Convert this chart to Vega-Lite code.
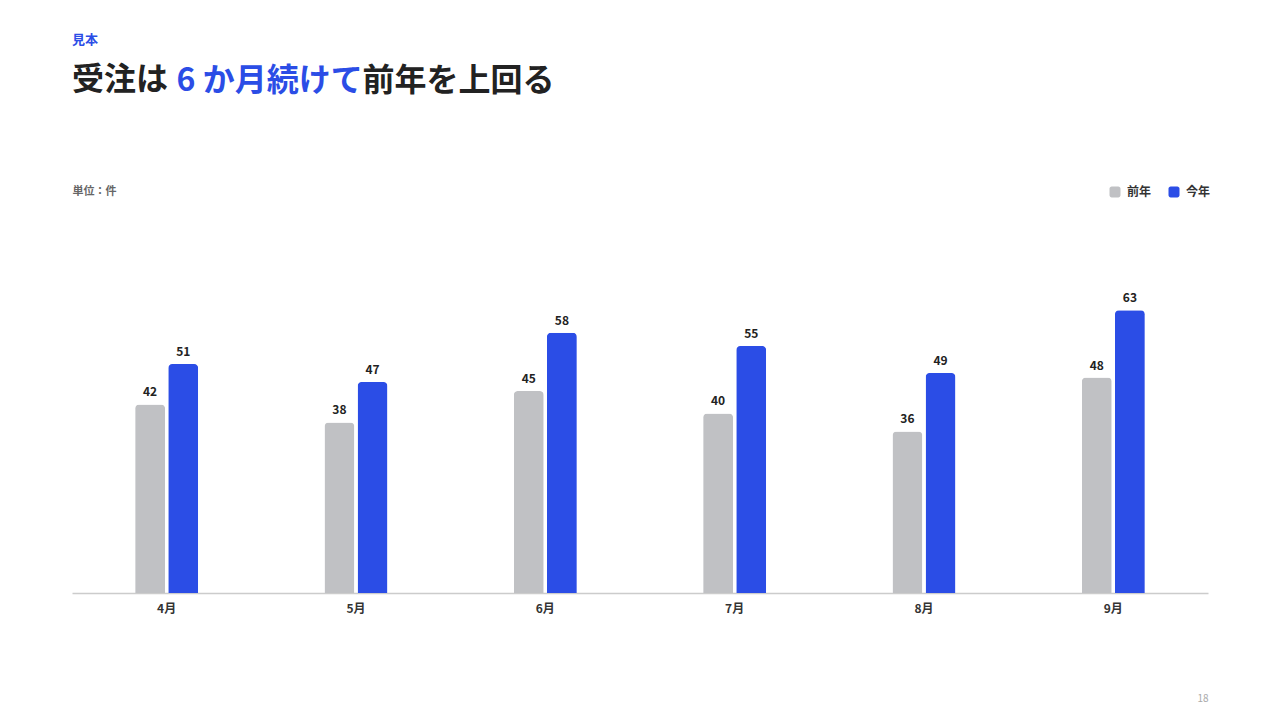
{
  "$schema": "https://vega.github.io/schema/vega-lite/v6.json",
  "autosize": {"type": "none"},
  "width": 1136,
  "height": 413,
  "padding": {"left": 72, "top": 180, "right": 72, "bottom": 127},
  "background": "#ffffff",
  "config": {
    "view": {"stroke": null},
    "font": "Noto Sans CJK JP"
  },
  "title": {
    "text": "見本",
    "subtitle": "受注は",
    "anchor": "start",
    "frame": "group",
    "fontSize": 13,
    "fontWeight": "bold",
    "color": "#2b4de6",
    "subtitleFontSize": 32,
    "subtitleFontWeight": "bold",
    "subtitleColor": "#222222",
    "subtitlePadding": 18,
    "offset": -32
  },
  "data": {
    "values": [
      {"month": "4月", "series": "前年", "value": 42},
      {"month": "4月", "series": "今年", "value": 51},
      {"month": "5月", "series": "前年", "value": 38},
      {"month": "5月", "series": "今年", "value": 47},
      {"month": "6月", "series": "前年", "value": 45},
      {"month": "6月", "series": "今年", "value": 58},
      {"month": "7月", "series": "前年", "value": 40},
      {"month": "7月", "series": "今年", "value": 55},
      {"month": "8月", "series": "前年", "value": 36},
      {"month": "8月", "series": "今年", "value": 49},
      {"month": "9月", "series": "前年", "value": 48},
      {"month": "9月", "series": "今年", "value": 63}
    ]
  },
  "encoding": {
    "x": {
      "field": "month",
      "type": "nominal",
      "sort": ["4月", "5月", "6月", "7月", "8月", "9月"],
      "scale": {"paddingInner": 0.667, "paddingOuter": 0.3335}
    },
    "xOffset": {
      "field": "series",
      "type": "nominal",
      "sort": ["前年", "今年"],
      "scale": {"paddingInner": 0.095, "paddingOuter": 0}
    },
    "y": {
      "field": "value",
      "type": "quantitative",
      "scale": {"domain": [0, 92], "nice": false, "zero": true}
    }
  },
  "layer": [
    {
      "mark": {"type": "bar", "cornerRadiusTopLeft": 4, "cornerRadiusTopRight": 4},
      "encoding": {
        "x": {
          "field": "month",
          "type": "nominal",
          "sort": ["4月", "5月", "6月", "7月", "8月", "9月"],
          "axis": {
            "orient": "bottom",
            "title": "18",
            "titleAnchor": "end",
            "titleAlign": "right",
            "titleBaseline": "middle",
            "titleX": 1136,
            "titleY": 105,
            "titleFontSize": 10,
            "titleFontWeight": "normal",
            "titleColor": "#aaaaaa",
            "labelAngle": 0,
            "labelFontSize": 12,
            "labelFontWeight": "bold",
            "labelColor": "#333333",
            "labelPadding": 10,
            "ticks": false,
            "domainColor": "#cccccc",
            "domainWidth": 1.5,
            "grid": false
          }
        },
        "y": {
          "field": "value",
          "type": "quantitative",
          "axis": {
            "orient": "left",
            "title": "単位：件",
            "titleAngle": 0,
            "titleAlign": "left",
            "titleBaseline": "middle",
            "titleX": 0,
            "titleY": 11,
            "titleFontSize": 11,
            "titleFontWeight": "bold",
            "titleColor": "#666666",
            "labels": false,
            "ticks": false,
            "domain": false,
            "grid": false
          }
        },
        "color": {
          "field": "series",
          "type": "nominal",
          "sort": ["前年", "今年"],
          "scale": {"domain": ["前年", "今年"], "range": ["#c0c1c4", "#2b4de6"]},
          "legend": {
            "title": null,
            "orient": "none",
            "direction": "horizontal",
            "legendX": 1037,
            "legendY": 6,
            "symbolType": "M-0.6,-1H0.6A0.4,0.4 0 0 1 1,-0.6V0.6A0.4,0.4 0 0 1 0.6,1H-0.6A0.4,0.4 0 0 1 -1,0.6V-0.6A0.4,0.4 0 0 1 -0.6,-1Z",
            "symbolSize": 121,
            "symbolStrokeWidth": 0,
            "labelFontSize": 12,
            "labelFontWeight": "bold",
            "labelColor": "#333333",
            "labelOffset": 6,
            "columnPadding": 16
          }
        }
      }
    },
    {
      "mark": {"type": "text", "baseline": "bottom", "dy": -5, "fontSize": 12, "fontWeight": "bold", "color": "#222222"},
      "encoding": {
        "x": {
          "field": "month",
          "type": "nominal",
          "sort": ["4月", "5月", "6月", "7月", "8月", "9月"],
          "axis": {
            "orient": "top",
            "title": "6 か月続けて",
            "titleAnchor": "start",
            "titleAlign": "left",
            "titleBaseline": "middle",
            "titleX": 104,
            "titleY": -100,
            "titleFontSize": 32,
            "titleFontWeight": "bold",
            "titleColor": "#2b4de6",
            "labels": false,
            "ticks": false,
            "domain": false,
            "grid": false
          }
        },
        "y": {
          "field": "value",
          "type": "quantitative",
          "axis": {
            "orient": "right",
            "title": "前年を上回る",
            "titleAngle": 0,
            "titleAlign": "left",
            "titleBaseline": "middle",
            "titleX": -846,
            "titleY": -100,
            "titleFontSize": 32,
            "titleFontWeight": "bold",
            "titleColor": "#222222",
            "labels": false,
            "ticks": false,
            "domain": false,
            "grid": false
          }
        },
        "text": {"field": "value", "type": "quantitative"}
      }
    }
  ],
  "resolve": {"axis": {"x": "independent", "y": "independent"}}
}
